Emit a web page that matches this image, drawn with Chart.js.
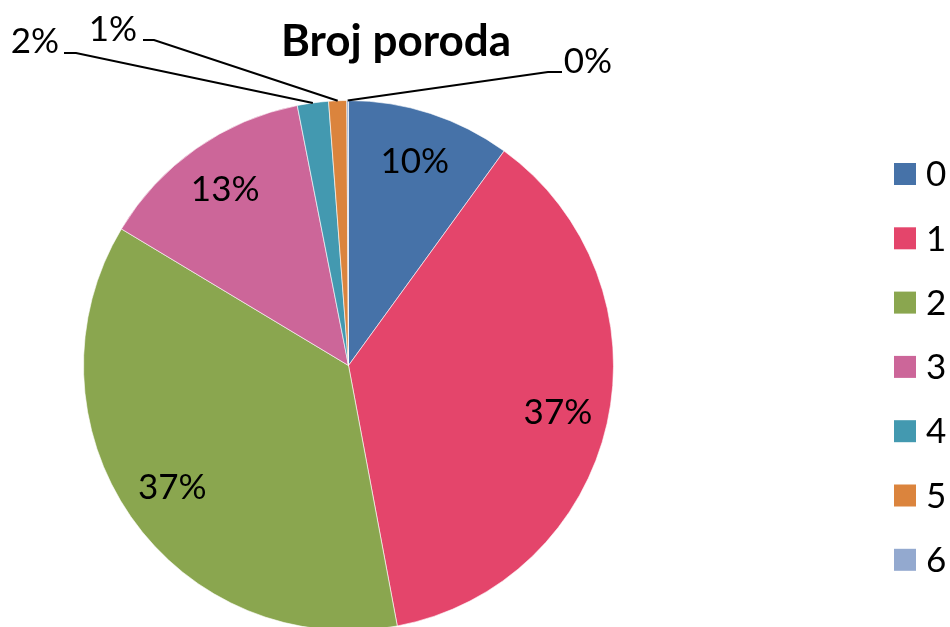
<!DOCTYPE html>
<html><head><meta charset="utf-8">
<script src="https://cdn.jsdelivr.net/npm/chart.js@4"></script>
<style>html,body{margin:0;padding:0;overflow:hidden;background:#fff}#wrap{width:950px;height:627px;overflow:hidden}canvas{display:block}</style>
</head><body><div id="wrap"><canvas id="c" width="950" height="700"></canvas></div>
<script>
const categories = ['0', '1', '2', '3', '4', '5', '6'];
const values = [10.0, 37.1, 36.6, 13.3, 1.9, 1.1, 0.1];
const colors = ['#4672A8', '#E4456B', '#8AA64F', '#CC6699', '#4399B0', '#DB843D', '#93A9CF'];
const chartTitle = 'Broj poroda';

// label placement for the slices whose labels sit outside (Excel-style leader lines)
const outsideLabels = {
  4: { tx: 35, ty: 42, ex: 76, ey: 53, hx: 64 },
  5: { tx: 113, ty: 30, ex: 154, ey: 40, hx: 143 },
  6: { tx: 588, ty: 62, ex: 548, ey: 72, hx: 562 }
};
const FONT = 'Lato, "Liberation Sans", sans-serif';

const overlay = {
  id: 'overlay',
  afterDatasetsDraw(chart) {
    const ctx = chart.ctx;
    const meta = chart.getDatasetMeta(0);
    const data = chart.data.datasets[0].data;
    const total = data.reduce((a, b) => a + b, 0);
    ctx.save();
    ctx.fillStyle = '#000';
    ctx.font = '35px ' + FONT;
    ctx.textAlign = 'center';
    ctx.textBaseline = 'middle';
    meta.data.forEach((arc, i) => {
      const p = arc.getProps(['x', 'y', 'startAngle', 'endAngle', 'outerRadius'], true);
      const mid = (p.startAngle + p.endAngle) / 2;
      const txt = Math.round(data[i] / total * 100) + '%';
      const o = outsideLabels[i];
      if (o) {
        const ax = p.x + Math.cos(mid) * p.outerRadius;
        const ay = p.y + Math.sin(mid) * p.outerRadius;
        ctx.beginPath();
        ctx.strokeStyle = '#000';
        ctx.lineWidth = 2;
        ctx.moveTo(ax, ay);
        ctx.lineTo(o.ex, o.ey);
        ctx.lineTo(o.hx, o.ey);
        ctx.stroke();
        ctx.fillText(txt, o.tx, o.ty);
      } else {
        const r = p.outerRadius * 0.81;
        ctx.fillText(txt, p.x + Math.cos(mid) * r, p.y + Math.sin(mid) * r);
      }
    });
    // title
    ctx.font = 'bold 44px ' + FONT;
    ctx.textBaseline = 'alphabetic';
    ctx.fillText(chartTitle, 396, 56);
    // legend
    ctx.textAlign = 'left';
    ctx.textBaseline = 'middle';
    ctx.font = '35px ' + FONT;
    chart.data.labels.forEach((lab, i) => {
      const cy = 174 + i * 64.3;
      ctx.fillStyle = chart.data.datasets[0].backgroundColor[i];
      ctx.fillRect(894, cy - 11, 22, 22);
      ctx.fillStyle = '#000';
      ctx.fillText(lab, 926, cy + 1);
    });
    ctx.restore();
  }
};

new Chart(document.getElementById('c'), {
  type: 'pie',
  data: {
    labels: categories,
    datasets: [{
      data: values,
      backgroundColor: colors,
      borderColor: 'rgba(255,255,255,0.6)',
      borderWidth: 1
    }]
  },
  options: {
    responsive: false,
    animation: false,
    layout: { padding: { left: 83, top: 100, right: 336, bottom: 69 } },
    plugins: {
      legend: { display: false },
      title: { display: false },
      tooltip: { enabled: false }
    }
  },
  plugins: [overlay]
});
</script>
</body></html>
